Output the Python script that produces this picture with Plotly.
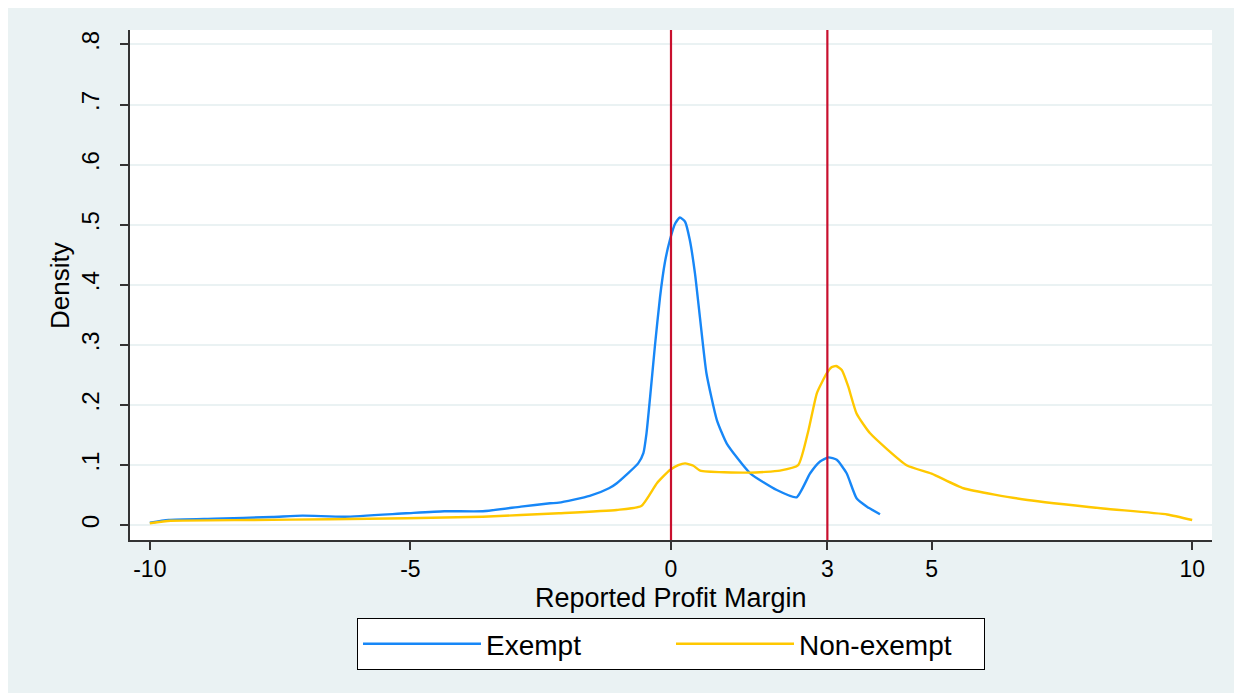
import plotly.graph_objects as go

# ---- data ----
exempt_x = [-10.0, -9.64, -8.76, -7.65, -7.07, -6.26, -5.08, -4.35, -3.61, -2.88, -2.32, -2.15,
            -1.56, -1.19, -1.04, -0.63, -0.53, -0.47, -0.40, -0.31, -0.21, -0.12, -0.02, 0.08,
            0.17, 0.27, 0.36, 0.46, 0.56, 0.68, 0.88, 1.07, 1.52, 2.03, 2.41, 2.67, 2.86,
            3.02, 3.18, 3.37, 3.56, 3.76, 4.01]
exempt_y = [0.0043, 0.0088, 0.011, 0.0138, 0.016, 0.0143, 0.020, 0.0233, 0.0233, 0.031, 0.0366, 0.0376,
            0.0488, 0.0616, 0.070, 0.103, 0.12, 0.153, 0.214, 0.297, 0.380, 0.436, 0.475, 0.502,
            0.512, 0.505, 0.475, 0.419, 0.342, 0.253, 0.175, 0.136, 0.0865, 0.0587, 0.0466, 0.0865, 0.106,
            0.113, 0.109, 0.0865, 0.045, 0.031, 0.0183]

nonexempt_x = [-10.0, -9.6, -8.02, -6.55, -5.08, -3.61, -2.15, -1.04, -0.57, -0.27, -0.02, 0.14, 0.27,
               0.43, 0.56, 1.52, 2.09, 2.44, 2.64, 2.80, 2.99, 3.08, 3.17, 3.28, 3.40, 3.56, 3.82, 4.52,
               5.0, 5.61, 6.84, 8.29, 9.52, 10.0]
nonexempt_y = [0.0033, 0.0075, 0.0088, 0.010, 0.0116, 0.0143, 0.020, 0.0255, 0.032, 0.070, 0.092, 0.100, 0.103,
               0.099, 0.091, 0.0876, 0.091, 0.100, 0.159, 0.220, 0.253, 0.263, 0.265, 0.258, 0.231, 0.186, 0.153,
               0.100, 0.086, 0.0616, 0.042, 0.028, 0.018, 0.0088]

vline_positions = [0, 3]
x_tickvals = [-10, -5, 0, 3, 5, 10]
y_tickvals = [0, 0.1, 0.2, 0.3, 0.4, 0.5, 0.6, 0.7, 0.8]
y_ticktext = ["0", ".1", ".2", ".3", ".4", ".5", ".6", ".7", ".8"]
x_title = "Reported Profit Margin"
y_title = "Density"

FONT = "Liberation Sans, Arial, sans-serif"
BG = "#EAF2F3"

fig = go.Figure()
fig.add_trace(go.Scatter(x=exempt_x, y=exempt_y, mode="lines", name="Exempt",
                         line=dict(color="#1787F7", width=2.4, shape="spline", smoothing=0.5)))
fig.add_trace(go.Scatter(x=nonexempt_x, y=nonexempt_y, mode="lines", name="Non-exempt",
                         line=dict(color="#FFC800", width=2.4, shape="spline", smoothing=0.5)))

for v in vline_positions:
    fig.add_shape(type="line", xref="x", yref="paper", x0=v, x1=v, y0=0, y1=1,
                  line=dict(color="#C8102E", width=2.2), layer="above")

# axis titles placed as annotations for exact positioning
fig.add_annotation(text=x_title, xref="paper", yref="paper", x=0.5, y=-0.114,
                   xanchor="center", yanchor="middle", showarrow=False, borderpad=0,
                   font=dict(family=FONT, size=27, color="black"))
fig.add_annotation(text=y_title, xref="paper", yref="paper", x=-0.0647, y=0.5,
                   xanchor="center", yanchor="middle", showarrow=False, textangle=-90,
                   font=dict(family=FONT, size=26, color="black"))

fig.update_layout(
    width=1242, height=693,
    margin=dict(l=122, r=38, t=22, b=161),
    paper_bgcolor=BG, plot_bgcolor="white",
    font=dict(family=FONT, size=24, color="black"),
    showlegend=True,
    legend=dict(orientation="h", x=0.5, xanchor="center", y=-0.153, yanchor="top",
                bordercolor="black", borderwidth=1, bgcolor="white",
                font=dict(size=28), itemwidth=118, entrywidth=180),
)
fig.update_xaxes(range=[-10.38, 10.38], tickvals=x_tickvals, ticktext=[str(v) for v in x_tickvals],
                 showgrid=False, zeroline=False, showline=True, linecolor="#333333", linewidth=1.5,
                 ticks="outside", ticklen=8, tickwidth=1.5, tickcolor="#333333",
                 ticklabelstandoff=0, tickfont=dict(size=23))
fig.update_yaxes(range=[-0.0245, 0.824], tickvals=y_tickvals, ticktext=y_ticktext, tickangle=-90,
                 showgrid=True, gridcolor=BG, gridwidth=1.5, zeroline=False,
                 showline=True, linecolor="#333333", linewidth=1.5,
                 ticks="outside", ticklen=8, tickwidth=1.5, tickcolor="#333333",
                 ticklabelstandoff=12)

fig.write_html("out.html")
